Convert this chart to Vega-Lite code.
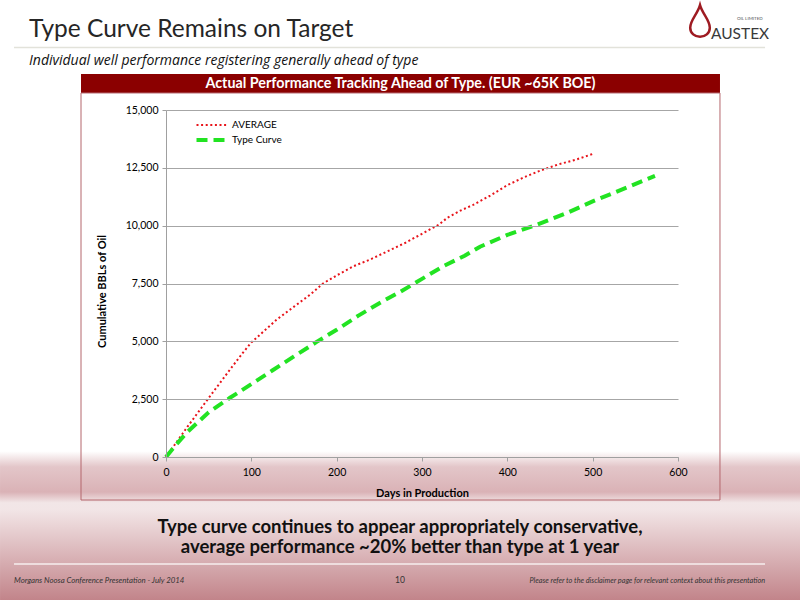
{
  "$schema": "https://vega.github.io/schema/vega-lite/v6.json",
  "width": 512,
  "height": 347,
  "autosize": "none",
  "padding": {"left": 166, "top": 110, "right": 122, "bottom": 143},
  "background": "#ffffff",
  "config": {"view": {"stroke": null}, "font": "Lato"},
  "datasets": {
    "wells": [
      {"day": 0, "bbl": 0, "series": "AVERAGE"},
      {"day": 10, "bbl": 520, "series": "AVERAGE"},
      {"day": 25, "bbl": 1300, "series": "AVERAGE"},
      {"day": 50, "bbl": 2550, "series": "AVERAGE"},
      {"day": 75, "bbl": 3780, "series": "AVERAGE"},
      {"day": 90, "bbl": 4500, "series": "AVERAGE"},
      {"day": 100, "bbl": 4950, "series": "AVERAGE"},
      {"day": 115, "bbl": 5450, "series": "AVERAGE"},
      {"day": 130, "bbl": 5950, "series": "AVERAGE"},
      {"day": 150, "bbl": 6500, "series": "AVERAGE"},
      {"day": 170, "bbl": 7050, "series": "AVERAGE"},
      {"day": 184, "bbl": 7500, "series": "AVERAGE"},
      {"day": 200, "bbl": 7850, "series": "AVERAGE"},
      {"day": 220, "bbl": 8250, "series": "AVERAGE"},
      {"day": 240, "bbl": 8550, "series": "AVERAGE"},
      {"day": 260, "bbl": 8900, "series": "AVERAGE"},
      {"day": 280, "bbl": 9250, "series": "AVERAGE"},
      {"day": 300, "bbl": 9650, "series": "AVERAGE"},
      {"day": 320, "bbl": 10050, "series": "AVERAGE"},
      {"day": 330, "bbl": 10350, "series": "AVERAGE"},
      {"day": 345, "bbl": 10650, "series": "AVERAGE"},
      {"day": 360, "bbl": 10900, "series": "AVERAGE"},
      {"day": 380, "bbl": 11300, "series": "AVERAGE"},
      {"day": 400, "bbl": 11750, "series": "AVERAGE"},
      {"day": 420, "bbl": 12100, "series": "AVERAGE"},
      {"day": 440, "bbl": 12400, "series": "AVERAGE"},
      {"day": 460, "bbl": 12650, "series": "AVERAGE"},
      {"day": 480, "bbl": 12850, "series": "AVERAGE"},
      {"day": 500, "bbl": 13100, "series": "AVERAGE"},
      {"day": 0, "bbl": 0, "series": "Type Curve"},
      {"day": 12, "bbl": 540, "series": "Type Curve"},
      {"day": 25, "bbl": 1080, "series": "Type Curve"},
      {"day": 50, "bbl": 1930, "series": "Type Curve"},
      {"day": 75, "bbl": 2560, "series": "Type Curve"},
      {"day": 100, "bbl": 3150, "series": "Type Curve"},
      {"day": 125, "bbl": 3750, "series": "Type Curve"},
      {"day": 150, "bbl": 4350, "series": "Type Curve"},
      {"day": 177, "bbl": 4985, "series": "Type Curve"},
      {"day": 200, "bbl": 5500, "series": "Type Curve"},
      {"day": 225, "bbl": 6100, "series": "Type Curve"},
      {"day": 250, "bbl": 6650, "series": "Type Curve"},
      {"day": 275, "bbl": 7150, "series": "Type Curve"},
      {"day": 300, "bbl": 7700, "series": "Type Curve"},
      {"day": 325, "bbl": 8250, "series": "Type Curve"},
      {"day": 350, "bbl": 8700, "series": "Type Curve"},
      {"day": 368, "bbl": 9090, "series": "Type Curve"},
      {"day": 400, "bbl": 9600, "series": "Type Curve"},
      {"day": 434, "bbl": 10030, "series": "Type Curve"},
      {"day": 470, "bbl": 10550, "series": "Type Curve"},
      {"day": 500, "bbl": 11050, "series": "Type Curve"},
      {"day": 540, "bbl": 11650, "series": "Type Curve"},
      {"day": 573, "bbl": 12150, "series": "Type Curve"}
    ]
  },
  "layer": [
    {
      "data": {"values": [{}]},
      "mark": {"type": "rect", "color": {"gradient": "linear", "x1": 0, "y1": 0, "x2": 0, "y2": 1, "stops": [
        {"offset": 0, "color": "#ffffff"},
        {"offset": 0.752, "color": "#ffffff"},
        {"offset": 0.778, "color": "#e3c6c9"},
        {"offset": 0.82, "color": "#dab2b6"},
        {"offset": 0.838, "color": "#f2e6e7"},
        {"offset": 0.85, "color": "#f2e5e6"},
        {"offset": 1, "color": "#c2848a"}
      ]}},
      "encoding": {
        "x": {"datum": -194.5, "type": "quantitative", "scale": {"domain": [0, 600], "nice": false, "zero": false}},
        "x2": {"datum": 743},
        "y": {"datum": 19755, "type": "quantitative", "scale": {"domain": [0, 15000], "nice": false, "zero": false}},
        "y2": {"datum": -6182}
      }
    },
    {
      "data": {"values": [{}]},
      "mark": {"type": "rule", "color": "#e2e2da", "strokeWidth": 1.5},
      "encoding": {
        "x": {"datum": -178.1, "type": "quantitative"},
        "x2": {"datum": 702},
        "y": {"datum": 17702, "type": "quantitative"}
      }
    },
    {
      "data": {"values": [{}]},
      "mark": {"type": "rule", "color": "#f6eeee", "strokeWidth": 1.5},
      "encoding": {
        "x": {"datum": -178.1, "type": "quantitative"},
        "x2": {"datum": 702},
        "y": {"datum": -4625, "type": "quantitative"}
      }
    },
    {
      "data": {"values": [{}]},
      "mark": {"type": "rect", "color": "#8b0000"},
      "encoding": {
        "x": {"datum": -99.6, "type": "quantitative"},
        "x2": {"datum": 649.2},
        "y": {"datum": 16556, "type": "quantitative"},
        "y2": {"datum": 15735}
      }
    },
    {
      "data": {"values": [{}]},
      "mark": {"type": "rect", "fillOpacity": 0, "stroke": "#b4666d", "strokeWidth": 1},
      "encoding": {
        "x": {"datum": -99.6, "type": "quantitative"},
        "x2": {"datum": 649.2},
        "y": {"datum": 15735, "type": "quantitative"},
        "y2": {"datum": -1859}
      }
    },
    {
      "data": {"values": [{}]},
      "mark": {"type": "text", "color": "#ffffff", "fontWeight": "bold", "fontSize": 14.3, "align": "center", "baseline": "middle"},
      "encoding": {
        "x": {"datum": 274.8, "type": "quantitative"},
        "y": {"datum": 16124, "type": "quantitative"},
        "text": {"value": "Actual Performance Tracking Ahead of Type. (EUR ~65K BOE)"}
      }
    },
    {
      "data": {"values": [{}]},
      "mark": {"type": "text", "color": "#262626", "fontSize": 24.5, "align": "left", "baseline": "alphabetic"},
      "encoding": {
        "x": {"datum": -160.5, "type": "quantitative"},
        "y": {"datum": 18156, "type": "quantitative"},
        "text": {"value": "Type Curve Remains on Target"}
      }
    },
    {
      "data": {"values": [{}]},
      "mark": {"type": "text", "color": "#111111", "fontSize": 14, "font": "Open Sans", "fontStyle": "italic", "align": "left", "baseline": "alphabetic"},
      "encoding": {
        "x": {"datum": -160.5, "type": "quantitative"},
        "y": {"datum": 16945, "type": "quantitative"},
        "text": {"value": "Individual well performance registering generally ahead of type"}
      }
    },
    {
      "data": {"values": [{}]},
      "mark": {"type": "text", "color": "#111111", "fontSize": 18.5, "fontWeight": "bold", "align": "center", "baseline": "alphabetic"},
      "encoding": {
        "x": {"datum": 274.2, "type": "quantitative"},
        "y": {"datum": -3285, "type": "quantitative"},
        "text": {"value": "Type curve continues to appear appropriately conservative,"}
      }
    },
    {
      "data": {"values": [{}]},
      "mark": {"type": "text", "color": "#111111", "fontSize": 18.5, "fontWeight": "bold", "align": "center", "baseline": "alphabetic"},
      "encoding": {
        "x": {"datum": 274.2, "type": "quantitative"},
        "y": {"datum": -4150, "type": "quantitative"},
        "text": {"value": "average performance ~20% better than type at 1 year"}
      }
    },
    {
      "data": {"values": [{}]},
      "mark": {"type": "text", "color": "#333333", "fontSize": 7.8, "fontStyle": "italic", "align": "left", "baseline": "alphabetic"},
      "encoding": {
        "x": {"datum": -178.1, "type": "quantitative"},
        "y": {"datum": -5447, "type": "quantitative"},
        "text": {"value": "Morgans Noosa Conference Presentation  - July 2014"}
      }
    },
    {
      "data": {"values": [{}]},
      "mark": {"type": "text", "color": "#333333", "fontSize": 8.5, "align": "center", "baseline": "alphabetic"},
      "encoding": {
        "x": {"datum": 274.2, "type": "quantitative"},
        "y": {"datum": -5447, "type": "quantitative"},
        "text": {"value": "10"}
      }
    },
    {
      "data": {"values": [{}]},
      "mark": {"type": "text", "color": "#333333", "fontSize": 7.3, "fontStyle": "italic", "align": "right", "baseline": "alphabetic"},
      "encoding": {
        "x": {"datum": 702, "type": "quantitative"},
        "y": {"datum": -5447, "type": "quantitative"},
        "text": {"value": "Please refer to the disclaimer page for relevant context about this presentation"}
      }
    },
    {
      "data": {"values": [{}]},
      "mark": {"type": "point", "shape": "M0,-1 C0.15,-0.45 0.62,-0.05 0.62,0.42 C0.62,0.78 0.32,1 0,1 C-0.32,1 -0.62,0.78 -0.62,0.42 C-0.62,-0.05 -0.15,-0.45 0,-1 Z", "filled": false, "stroke": "#9e1b22", "strokeWidth": 2.5, "size": 1000, "opacity": 1},
      "encoding": {
        "x": {"datum": 625.8, "type": "quantitative"},
        "y": {"datum": 18847, "type": "quantitative"}
      }
    },
    {
      "data": {"values": [{}]},
      "mark": {"type": "text", "color": "#3a3a3a", "fontSize": 15.5, "align": "left", "baseline": "alphabetic"},
      "encoding": {
        "x": {"datum": 638.6, "type": "quantitative"},
        "y": {"datum": 18090, "type": "quantitative"},
        "text": {"value": "AUSTEX"}
      }
    },
    {
      "data": {"values": [{}]},
      "mark": {"type": "text", "color": "#555555", "fontSize": 4.5, "align": "left", "baseline": "alphabetic"},
      "encoding": {
        "x": {"datum": 669, "type": "quantitative"},
        "y": {"datum": 18880, "type": "quantitative"},
        "text": {"value": "OIL LIMITED"}
      }
    },
    {
      "data": {"name": "wells"},
      "mark": {"type": "line", "strokeCap": "butt"},
      "encoding": {
        "x": {"field": "day", "type": "quantitative", "scale": {"domain": [0, 600], "nice": false, "zero": false},
          "axis": {"values": [0, 100, 200, 300, 400, 500, 600], "labelExpr": "format(datum.value, 'd')", "grid": false, "domainColor": "#a0a0a0", "tickColor": "#a0a0a0", "tickSize": 4, "labelFontSize": 10.5, "labelColor": "#000000", "labelPadding": 6, "labelFlush": false, "title": "Days in Production", "titleFontSize": 11, "titleFontWeight": "bold", "titleColor": "#000000", "titlePadding": 10, "zindex": 1}},
        "y": {"field": "bbl", "type": "quantitative", "scale": {"domain": [0, 15000], "nice": false, "zero": false},
          "axis": {"values": [0, 2500, 5000, 7500, 10000, 12500, 15000], "labelExpr": "format(datum.value, ',')", "grid": true, "gridColor": "#a6a6a6", "domainColor": "#a0a0a0", "tickColor": "#a0a0a0", "tickSize": 4, "labelFontSize": 10.5, "labelColor": "#000000", "labelPadding": 4, "title": "Cumulative BBLs of Oil", "titleFontSize": 11, "titleFontWeight": "bold", "titleColor": "#000000", "titlePadding": 18, "titleY": 181, "zindex": 1}},
        "color": {"field": "series", "type": "nominal", "scale": {"domain": ["AVERAGE", "Type Curve"], "range": ["#e8141b", "#22e322"]},
          "legend": {"title": null, "orient": "none", "legendX": 36, "legendY": 6.5, "symbolType": "M-2,0L2,0", "symbolSize": 225, "labelFontSize": 10, "labelColor": "#000000", "labelOffset": 11, "rowPadding": 0, "padding": 0}},
        "strokeDash": {"field": "series", "type": "nominal", "scale": {"domain": ["AVERAGE", "Type Curve"], "range": [[2, 2.6], [11, 6]]}},
        "strokeWidth": {"field": "series", "type": "nominal", "scale": {"domain": ["AVERAGE", "Type Curve"], "range": [2, 4]}}
      }
    }
  ]
}
